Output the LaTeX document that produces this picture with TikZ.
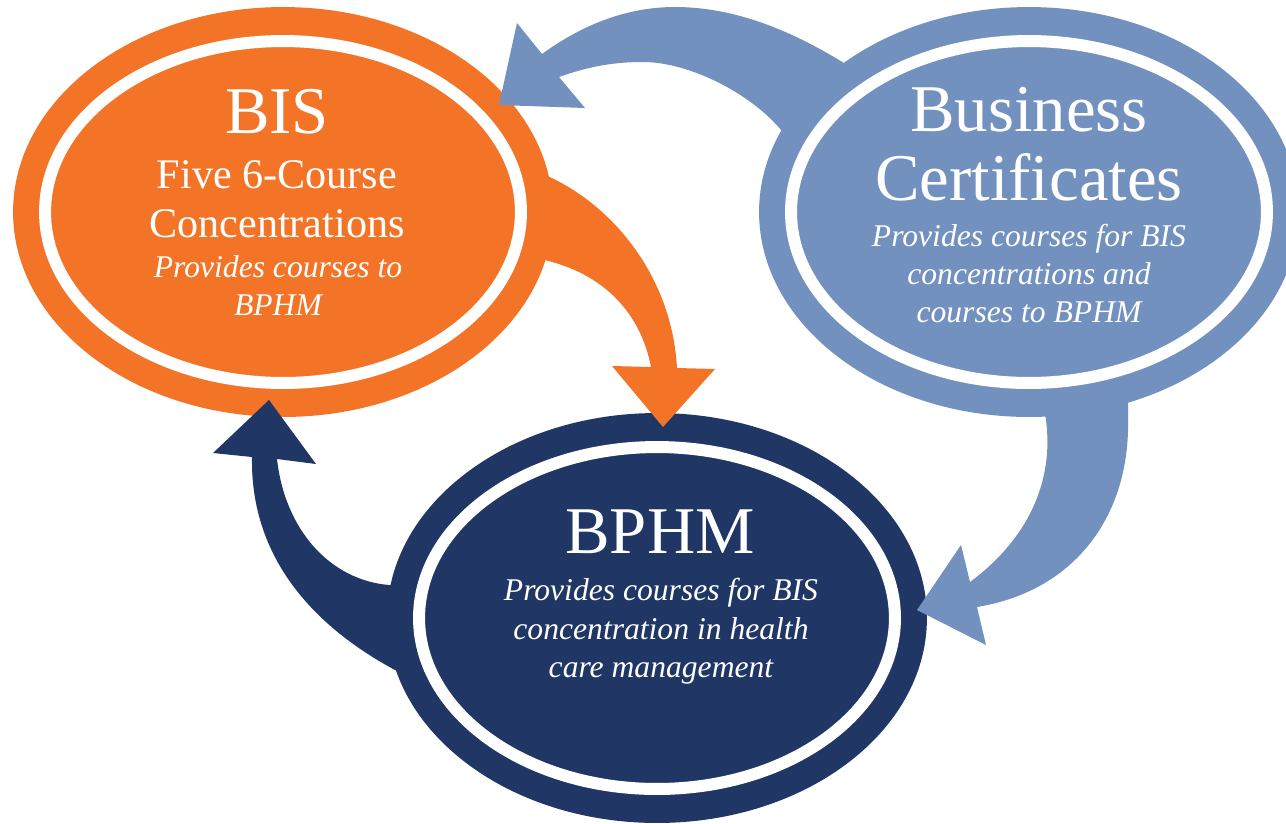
\documentclass[tikz,border=0pt]{standalone}
\usepackage{fontspec}
\setmainfont{Liberation Serif}
\usepackage{tikz}
\usetikzlibrary{shapes.geometric}
\tikzset{disc/.style = {ellipse, inner sep=0, outer sep=0,
                        minimum width=10.8cm, minimum height=8.2cm},
         rim/.style = {ellipse, draw=white, line width=0.24cm, inner sep=0,
                       minimum width=9.52cm, minimum height=6.84cm},
         titletext/.style = {text=white, anchor=base, inner sep=0,
                             font=\fontsize{38}{38}\selectfont},
         subtext/.style = {text=white, anchor=base, inner sep=0,
                           font=\fontsize{24}{24}\selectfont},
         notetext/.style = {text=white, anchor=base, inner sep=0,
                            font=\fontsize{18}{18}\selectfont\itshape}}
\definecolor{morange}{RGB}{243,116,38}
\definecolor{mblue}{RGB}{115,145,191}
\definecolor{mnavy}{RGB}{32,54,101}

\begin{document}
\begin{tikzpicture}[x=0.02cm, y=-0.02cm]
    \useasboundingbox (0, 0) rectangle (1286, 823);
    \node [disc, fill=morange] (bis) at (283, 212) {};
    \node [disc, fill=mblue] (cert) at (1029, 212) {};
    \node [disc, fill=mnavy] (bphm) at (657, 618) {};

    % block arrows
    \fill [mblue] (785, 135) -- (852, 68) .. controls (800, 35) and (740, 7) .. (675, 7) .. controls (620, 7) and (575, 30) .. (542, 54) -- (517, 23) -- (499, 105) -- (585, 108) -- (559, 77) .. controls (590, 66) and (615, 62) .. (643, 62) .. controls (690, 62) and (755, 95) .. (785, 135) -- cycle;
    \fill [morange] (535, 258) -- (538, 172) .. controls (610, 200) and (672, 275) .. (677, 368) -- (715, 369) -- (663, 427) -- (612, 366) -- (651, 367) .. controls (640, 310) and (600, 270) .. (535, 258) -- cycle;
    \fill [mblue] (1043, 403) -- (1128, 388) -- (1128, 420) .. controls (1130, 510) and (1080, 590) .. (977, 607) -- (986, 645) -- (917, 610) -- (961, 545) -- (970, 582) .. controls (1020, 545) and (1055, 490) .. (1046, 420) -- cycle;
    \fill [mnavy] (404, 585) -- (410, 675) -- (395, 670) .. controls (330, 635) and (250, 570) .. (252, 457) -- (213, 453) -- (269, 400) -- (316, 464) -- (277, 459) .. controls (285, 530) and (330, 580) .. (389, 585) -- cycle;

    \node [rim] (bisrim) at (bis) {};
    \node [rim] (certrim) at (cert) {};
    \node [rim] (bphmrim) at (bphm) {};

    \node [titletext] (bistitle) at (277, 133) {BIS};
    \node [subtext] (bisfive) at (277, 188) {Five 6-Course};
    \node [subtext] (bisconc) at (277, 237) {Concentrations};
    \node [notetext] (bisnotea) at (278, 277) {Provides courses to};
    \node [notetext] (bisnoteb) at (278, 315) {BPHM};

    \node [titletext] (certtitlea) at (1029, 131) {Business};
    \node [titletext] (certtitleb) at (1029, 200) {Certificates};
    \node [notetext] (certnotea) at (1029, 246) {Provides courses for BIS};
    \node [notetext] (certnoteb) at (1029, 284) {concentrations and};
    \node [notetext] (certnotec) at (1029, 322) {courses to BPHM};

    \node [titletext] (bphmtitle) at (660, 553) {BPHM};
    \node [notetext] (bphmnotea) at (661, 600) {Provides courses for BIS};
    \node [notetext] (bphmnoteb) at (661, 639) {concentration in health};
    \node [notetext] (bphmnotec) at (661, 677) {care management};
\end{tikzpicture}
\end{document}
